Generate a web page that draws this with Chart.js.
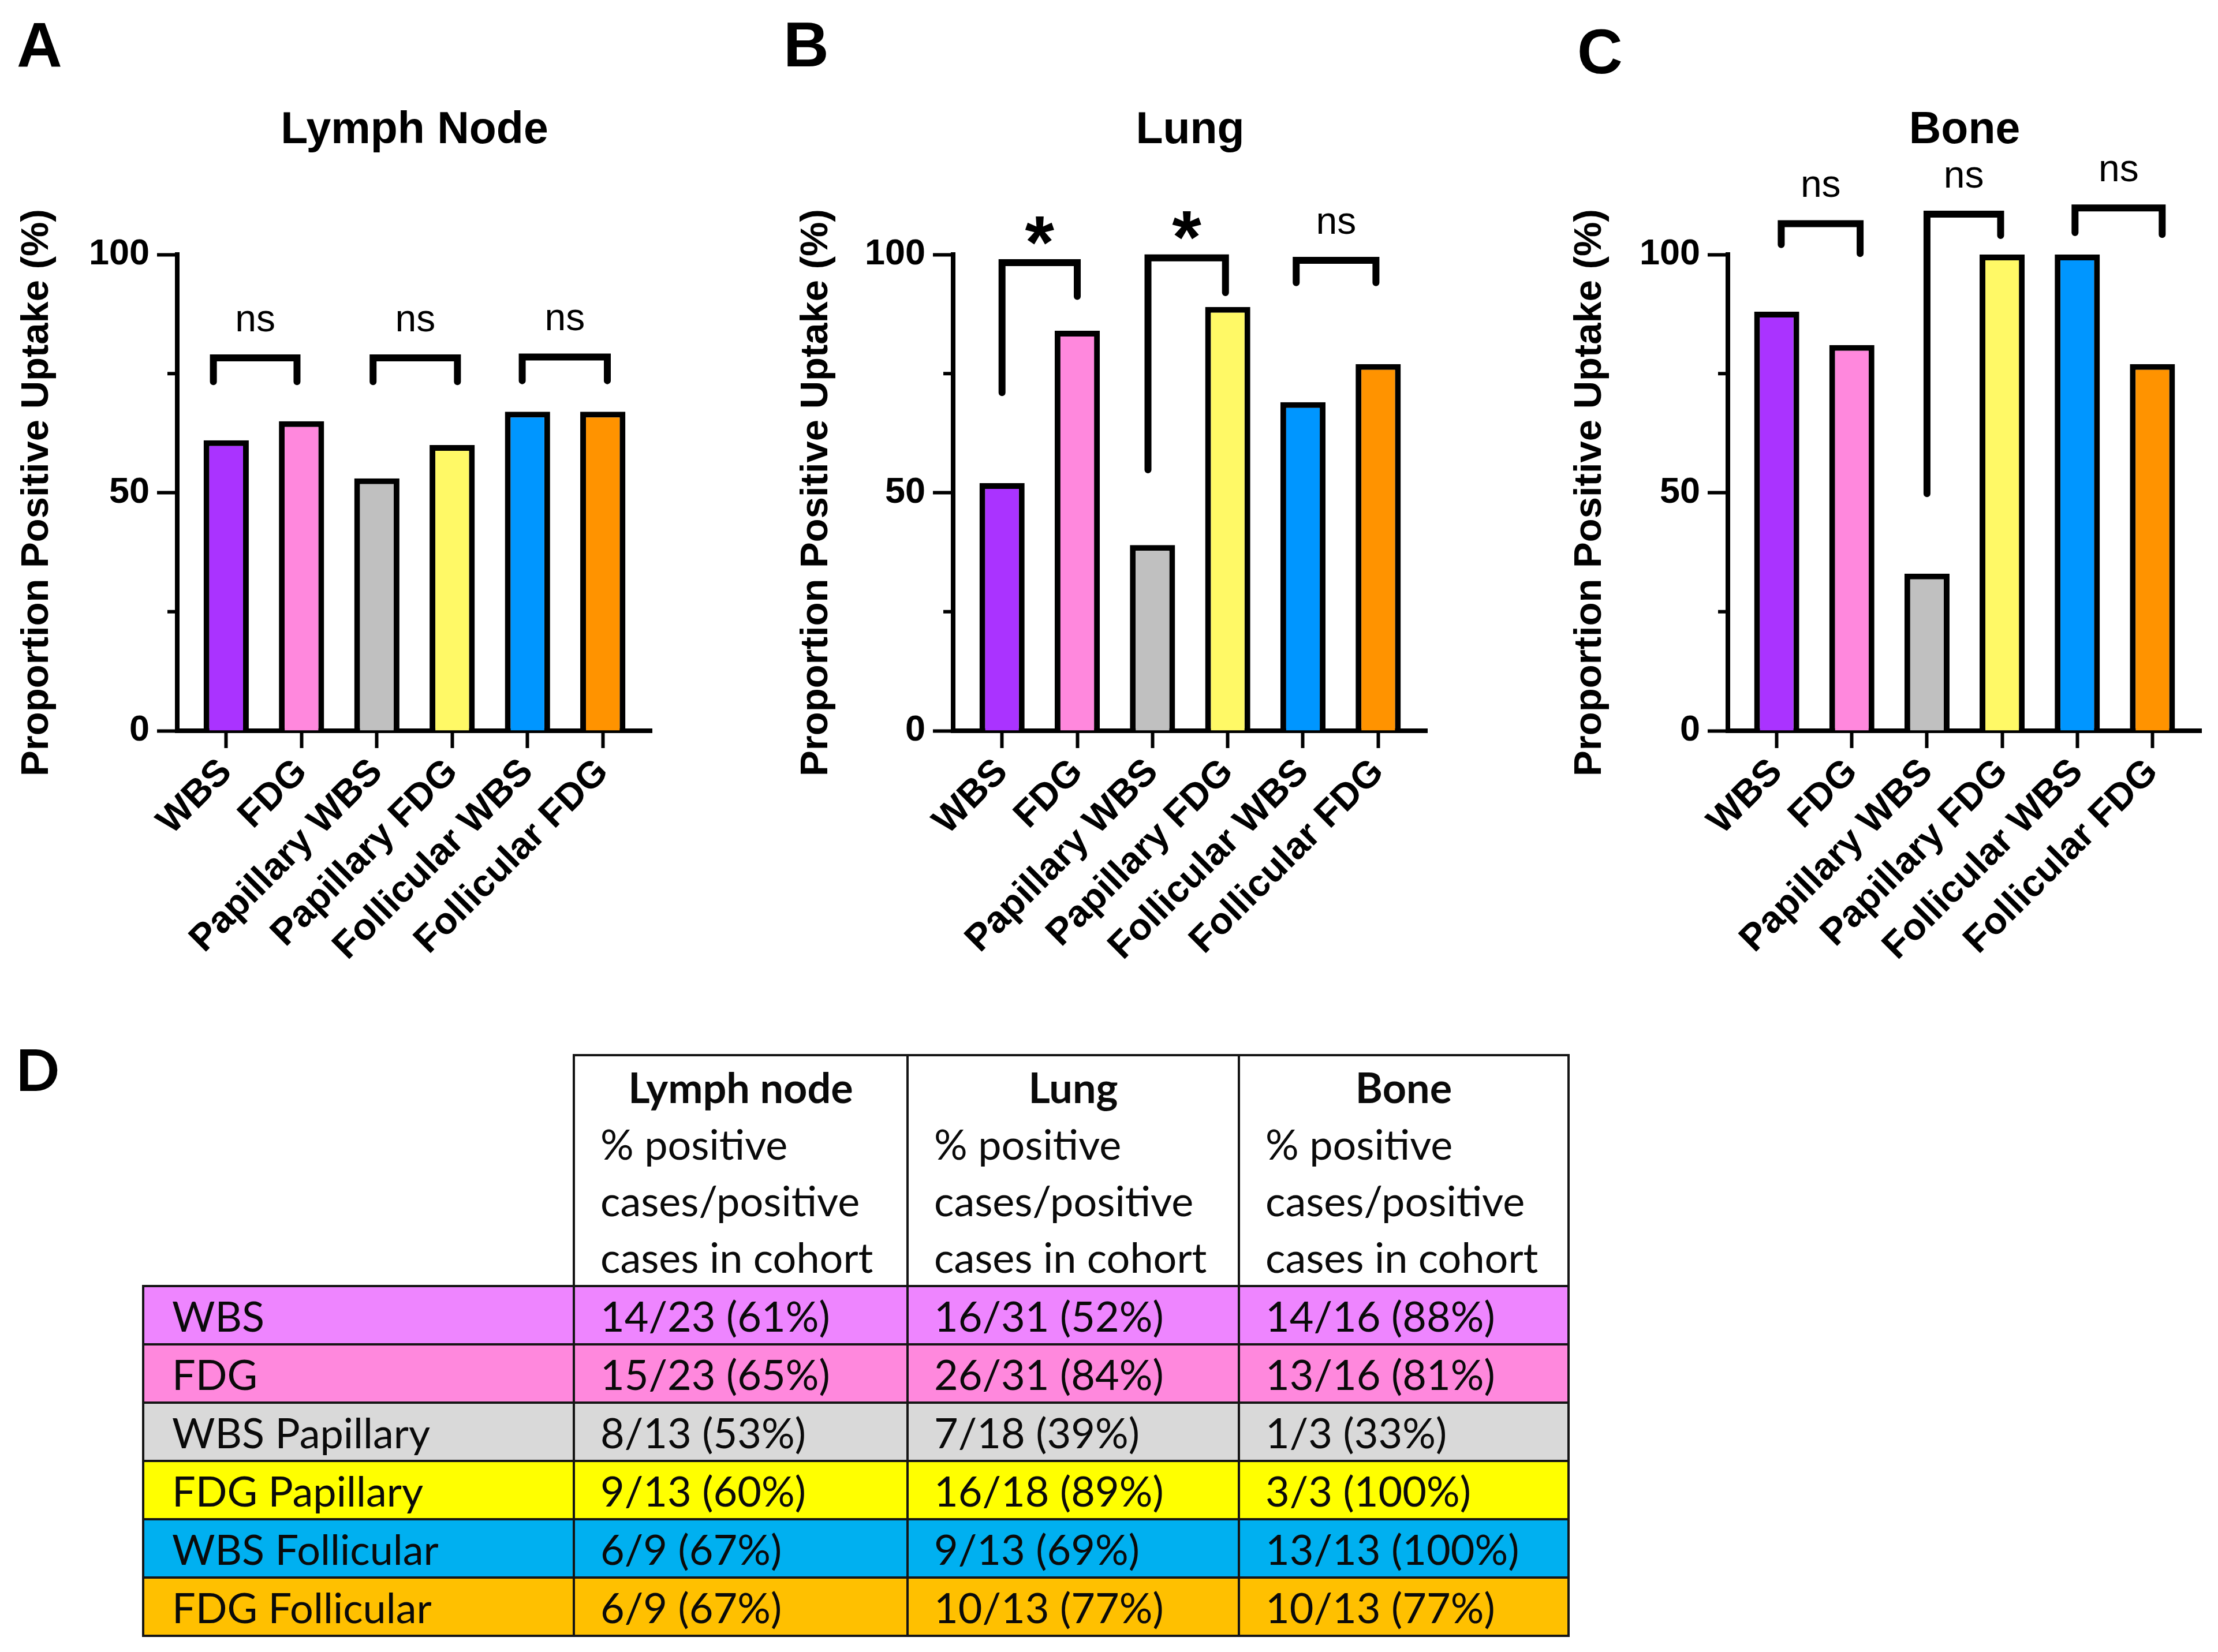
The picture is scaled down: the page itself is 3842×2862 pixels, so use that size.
<!DOCTYPE html>
<html>
<head>
<meta charset="utf-8">
<script src="https://cdn.jsdelivr.net/npm/chart.js@4.4.1/dist/chart.umd.min.js"></script>
<style>
  html, body { margin: 0; padding: 0; background: #fff; }
  body { width: 3842px; height: 2862px; position: relative; overflow: hidden; }
  canvas.cv { position: absolute; top: 0; }
  .letter { position: absolute; font-family: "Liberation Sans", Arial, sans-serif; font-weight: bold; font-size: 109px; line-height: 1; color: #000; }
  .letterD { position: absolute; font-family: Lato, sans-serif; font-weight: bold; font-size: 100px; line-height: 1; color: #000; }
  #tbl { position: absolute; left: 246px; top: 1826px; border-collapse: collapse; table-layout: fixed;
         font-family: Lato, sans-serif; font-size: 72px; color: #0a0a0a; }
  #tbl td, #tbl th { border: 4px solid #151515; box-sizing: border-box; text-align: left; font-weight: normal;
         white-space: nowrap; vertical-align: middle; padding: 0 0 0 44px; }
  #tbl tbody td { height: 101px; line-height: 1; }
  #tbl tbody td.lab { padding-left: 48px; }
  #tbl thead th { height: 397px; line-height: 98px; padding-top: 4px; vertical-align: top; background: #fff; }
  #tbl thead th.blank { border: none; border-bottom: 4px solid #151515; }
  #tbl thead .h { font-weight: bold; text-align: center; display: block; margin-left: -44px; }
</style>
</head>
<body>
<div class="letter" style="left:29px;top:23px;">A</div>
<div class="letter" style="left:1357px;top:23px;">B</div>
<div class="letter" style="left:2732px;top:35px;">C</div>
<div class="letterD" style="left:27px;top:1801px;">D</div>

<canvas id="cA" class="cv" width="1300" height="1720" style="left:0px;"></canvas>
<canvas id="cB" class="cv" width="1300" height="1720" style="left:1300px;"></canvas>
<canvas id="cC" class="cv" width="1242" height="1720" style="left:2600px;"></canvas>

<table id="tbl">
  <colgroup><col style="width:746px"><col style="width:578px"><col style="width:574px"><col style="width:571px"></colgroup>
  <thead><tr id="thead"></tr></thead>
  <tbody id="tbody"></tbody>
</table>

<script>
// ---------------- DATA ----------------
const categories = ['WBS', 'FDG', 'Papillary WBS', 'Papillary FDG', 'Follicular WBS', 'Follicular FDG'];
const lymphNodeValues = [61, 65, 53, 60, 67, 67];
const lungValues = [52, 84, 39, 89, 69, 77];
const boneValues = [88, 81, 33, 100, 100, 77];
const yTickValues = [0, 25, 50, 75, 100];
const yTickLabelled = [0, 50, 100];
const yMinorTicks = [25, 75];
const panelTitles = ['Lymph Node', 'Lung', 'Bone'];
const yAxisTitle = 'Proportion Positive Uptake (%)';

// significance brackets: x in category units, y in data units
const lymphNodeBrackets = [
  { x1: -0.17, x2: 0.94, top: 78.3, leftEnd: 73.3, rightEnd: 73.3, label: 'ns' },
  { x1: 1.95, x2: 3.07, top: 78.3, leftEnd: 73.3, rightEnd: 73.3, label: 'ns' },
  { x1: 3.93, x2: 5.06, top: 78.5, leftEnd: 73.5, rightEnd: 73.5, label: 'ns' }
];
const lungBrackets = [
  { x1: 0.0, x2: 1.0, top: 98.3, leftEnd: 71.0, rightEnd: 91.2, label: '*' },
  { x1: 1.94, x2: 2.97, top: 99.3, leftEnd: 54.8, rightEnd: 92.0, label: '*' },
  { x1: 3.91, x2: 4.97, top: 98.8, leftEnd: 94.1, rightEnd: 94.1, label: 'ns' }
];
const boneBrackets = [
  { x1: 0.06, x2: 1.11, top: 106.5, leftEnd: 102.1, rightEnd: 100.2, label: 'ns' },
  { x1: 2.0, x2: 2.98, top: 108.5, leftEnd: 49.8, rightEnd: 104.0, label: 'ns' },
  { x1: 3.97, x2: 5.13, top: 109.8, leftEnd: 104.6, rightEnd: 104.2, label: 'ns' }
];

// table D
const tableRowLabels = ['WBS', 'FDG', 'WBS Papillary', 'FDG Papillary', 'WBS Follicular', 'FDG Follicular'];
const tableColumnTitles = ['Lymph node', 'Lung', 'Bone'];
const tableColumnSubtitle = ['% positive', 'cases/positive', 'cases in cohort'];
const tableLymphNode = ['14/23 (61%)', '15/23 (65%)', '8/13 (53%)', '9/13 (60%)', '6/9 (67%)', '6/9 (67%)'];
const tableLung = ['16/31 (52%)', '26/31 (84%)', '7/18 (39%)', '16/18 (89%)', '9/13 (69%)', '10/13 (77%)'];
const tableBone = ['14/16 (88%)', '13/16 (81%)', '1/3 (33%)', '3/3 (100%)', '13/13 (100%)', '10/13 (77%)'];

// ---------------- STYLE ----------------
const barColors = ['#AA33FF', '#FF88DD', '#C0C0C0', '#FFF966', '#0096FF', '#FF9300'];
const tableRowColors = ['#EE85FF', '#FF88DD', '#D9D9D9', '#FFFF00', '#00B0F0', '#FFC000'];
const FONT = '"Liberation Sans", Arial, Helvetica, sans-serif';

Chart.defaults.font.family = FONT;
Chart.defaults.color = '#000';

const annotate = {
  id: 'annotate',
  afterDraw(chart, args, opts) {
    const { ctx, chartArea } = chart;
    const x = chart.scales.x, y = chart.scales.y;
    ctx.save();
    ctx.fillStyle = '#000';
    ctx.strokeStyle = '#000';
    // panel title
    ctx.font = 'bold 77px ' + FONT;
    ctx.textAlign = 'center';
    ctx.textBaseline = 'alphabetic';
    ctx.fillText(opts.title, (chartArea.left + chartArea.right) / 2, 248);
    // minor y ticks
    ctx.lineWidth = 6;
    ctx.lineCap = 'butt';
    for (const v of yMinorTicks) {
      const py = y.getPixelForValue(v);
      ctx.beginPath();
      ctx.moveTo(chartArea.left - 17, py);
      ctx.lineTo(chartArea.left, py);
      ctx.stroke();
    }
    // brackets
    for (const b of opts.brackets) {
      const px1 = x.getPixelForValue(b.x1), px2 = x.getPixelForValue(b.x2);
      const pt = y.getPixelForValue(b.top);
      ctx.lineWidth = 12;
      ctx.lineCap = 'round';
      ctx.lineJoin = 'miter';
      ctx.beginPath();
      ctx.moveTo(px1, y.getPixelForValue(b.leftEnd));
      ctx.lineTo(px1, pt);
      ctx.lineTo(px2, pt);
      ctx.lineTo(px2, y.getPixelForValue(b.rightEnd));
      ctx.stroke();
      const cx = (px1 + px2) / 2;
      ctx.textAlign = 'center';
      ctx.textBaseline = 'alphabetic';
      if (b.label === '*') {
        ctx.font = 'bold 130px ' + FONT;
        const m = ctx.measureText('*');
        const yc = pt - 56;
        const base = yc + (m.actualBoundingBoxAscent - m.actualBoundingBoxDescent) / 2;
        ctx.fillText('*', cx, base);
      } else {
        ctx.font = '66px ' + FONT;
        ctx.fillText(b.label, cx, pt - 46);
      }
    }
    ctx.restore();
  }
};

function makeChart(id, values, brackets, title, yAxisWidth, padRight, yTitlePad) {
  const canvas = document.getElementById(id);
  const H = canvas.height;
  return new Chart(canvas, {
    type: 'bar',
    data: {
      datasets: [{
        data: values.map((v, i) => ({ x: i, y: v })),
        backgroundColor: barColors,
        borderColor: '#000',
        borderWidth: 10,
        borderSkipped: 'start',
        categoryPercentage: 1,
        barPercentage: 0.6
      }]
    },
    options: {
      responsive: false,
      animation: false,
      devicePixelRatio: 1,
      layout: { padding: { top: 441, right: padRight, left: 0, bottom: 0 } },
      plugins: {
        legend: { display: false },
        tooltip: { enabled: false },
        title: { display: false },
        annotate: { title: title, brackets: brackets }
      },
      scales: {
        x: {
          type: 'linear',
          min: -0.65,
          max: 5.65,
          offset: false,
          afterFit: (s) => { s.height = H - 1266; },
          grid: { display: true, drawOnChartArea: false, offset: false, drawTicks: true,
                  tickLength: 30, tickWidth: 6, tickColor: '#000', color: '#000' },
          border: { display: true, width: 8, color: '#000' },
          ticks: {
            stepSize: 1, includeBounds: false, autoSkip: false,
            minRotation: 45, maxRotation: 45, padding: 4,
            font: { size: 65, weight: 'bold' }, color: '#000',
            callback: (v) => (Number.isInteger(v) && categories[v] !== undefined) ? categories[v] : ''
          }
        },
        y: {
          type: 'linear',
          min: 0,
          max: 100,
          afterFit: (s) => { s.width = yAxisWidth; },
          afterBuildTicks: (s) => { s.ticks = yTickValues.map(v => ({ value: v })); },
          grid: { display: true, drawOnChartArea: false, drawTicks: true, tickLength: 35, tickWidth: 6,
                  color: '#000',
                  tickColor: (c) => (yTickLabelled.includes(c.tick && c.tick.value) ? '#000' : 'rgba(0,0,0,0)') },
          border: { display: true, width: 8, color: '#000' },
          ticks: {
            padding: 13, font: { size: 63, weight: 'bold' }, color: '#000',
            callback: (v) => (yTickLabelled.includes(v) ? String(v) : '')
          },
          title: {
            display: true, text: yAxisTitle, color: '#000',
            font: { size: 67, weight: 'bold' }, padding: { top: yTitlePad, bottom: 0 }
          }
        }
      }
    },
    plugins: [annotate]
  });
}

makeChart('cA', lymphNodeValues, lymphNodeBrackets, panelTitles[0], 307, 1300 - 1129, 24.8);
makeChart('cB', lungValues, lungBrackets, panelTitles[1], 351, 1300 - 1172, 74.8);
makeChart('cC', boneValues, boneBrackets, panelTitles[2], 393, 1242 - 1213, 114.8);

// ---------------- TABLE ----------------
const thead = document.getElementById('thead');
const blank = document.createElement('th');
blank.className = 'blank';
thead.appendChild(blank);
tableColumnTitles.forEach(t => {
  const th = document.createElement('th');
  const h = document.createElement('span');
  h.className = 'h';
  h.textContent = t;
  th.appendChild(h);
  tableColumnSubtitle.forEach(line => {
    const d = document.createElement('div');
    d.textContent = line;
    th.appendChild(d);
  });
  thead.appendChild(th);
});
const tbody = document.getElementById('tbody');
tableRowLabels.forEach((lab, i) => {
  const tr = document.createElement('tr');
  tr.style.background = tableRowColors[i];
  [lab, tableLymphNode[i], tableLung[i], tableBone[i]].forEach((txt, j) => {
    const td = document.createElement('td');
    if (j === 0) td.className = 'lab';
    td.textContent = txt;
    tr.appendChild(td);
  });
  tbody.appendChild(tr);
});
</script>
</body>
</html>
